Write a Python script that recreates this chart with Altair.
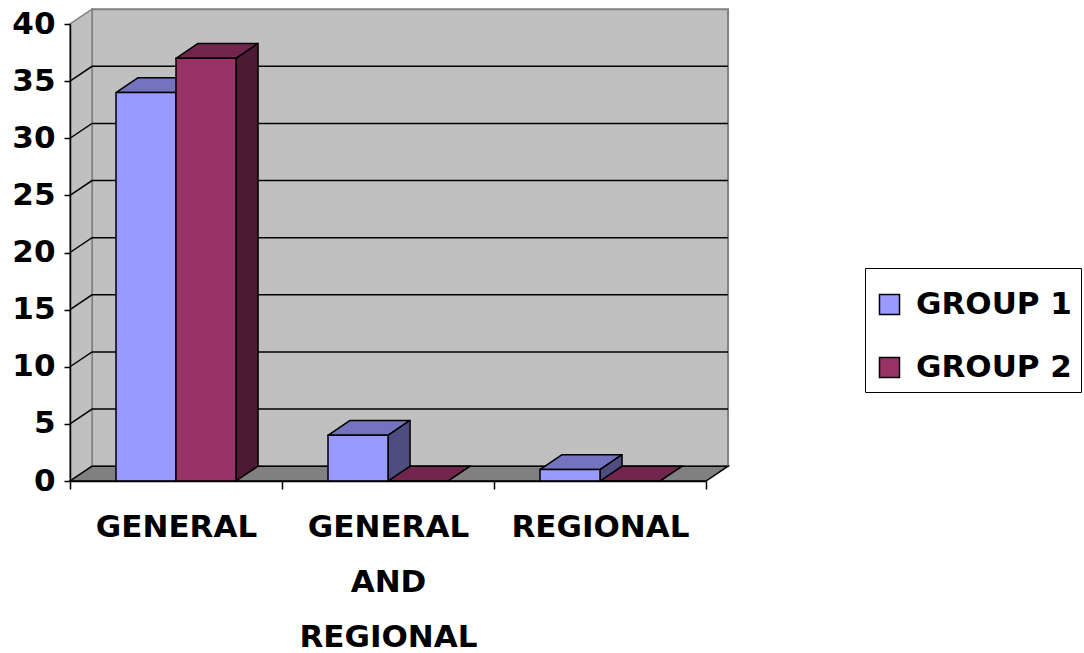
import altair as alt
import pandas as pd

# ---- chart values ----
categories = ["GENERAL", "GENERAL AND REGIONAL", "REGIONAL"]
category_lines = [["GENERAL"], ["GENERAL", "AND", "REGIONAL"], ["REGIONAL"]]
series = ["GROUP 1", "GROUP 2"]
group_1 = [34, 4, 1]
group_2 = [37, 0, 0]
y_ticks = [0, 5, 10, 15, 20, 25, 30, 35, 40]

# ---- styling ----
FRONT = ["#9999FF", "#993366"]
TOP = ["#7373BF", "#73264D"]
SIDE = ["#4D4D80", "#4D1A33"]
WALL = "#C0C0C0"
FLOOR = "#808080"
EDGE = "#808080"
FONT = "DejaVu Sans"
FONT_SIZE = 31

# pseudo-3D depth offsets (x in category units, y in value units)
DX, DY = 0.104, 1.3
BAR_W = 0.283
BAR_OFF = 0.217
NCAT = len(categories)
YMAX = y_ticks[-1]

# ---- derived tables ----
rows = []
for i, cat in enumerate(categories):
    for j, (s, vals) in enumerate(zip(series, [group_1, group_2])):
        x0 = i + BAR_OFF + j * BAR_W
        rows.append(dict(bar=f"{i}-{j}", group=s, value=vals[i], x0=x0, x1=x0 + BAR_W))
bars = pd.DataFrame(rows)

tops = pd.concat([
    bars.assign(y=bars.value, xa=bars.x0, xb=bars.x1),
    bars.assign(y=bars.value + DY, xa=bars.x0 + DX, xb=bars.x1 + DX),
])
sides = pd.concat([
    bars.assign(x=bars.x1, ya=0.0, yb=bars.value),
    bars.assign(x=bars.x1 + DX, ya=DY, yb=bars.value + DY),
])

back_wall = pd.DataFrame([{"x": DX, "x2": NCAT + DX, "y": DY, "y2": YMAX + DY}])
side_wall = pd.DataFrame({"x": [0, DX], "y": [0, DY], "y2": [YMAX, YMAX + DY]})
floor = pd.DataFrame({"y": [0, DY], "x": [0, DX], "x2": [NCAT, NCAT + DX]})

grid_rows = []
for v in y_ticks[1:-1]:
    grid_rows += [
        dict(v=v, k=0, x=0, y=v),
        dict(v=v, k=1, x=DX, y=v + DY),
        dict(v=v, k=2, x=NCAT + DX, y=v + DY),
    ]
grid = pd.DataFrame(grid_rows)

# ---- scales & axes (shared by every layer) ----
xs = alt.Scale(domain=[0, NCAT], nice=False, zero=False)
ys = alt.Scale(domain=[0, YMAX], nice=False, zero=False)

label_expr = " : ".join(
    f"datum.value == {i + 0.5} ? {lines if len(lines) > 1 else repr(lines[0])}"
    for i, lines in enumerate(category_lines)
) + " : ''"

x_axis = alt.Axis(
    values=[k * 0.5 for k in range(2 * NCAT + 1)],
    labelExpr=label_expr,
    tickOpacity={"condition": {"test": "datum.value % 1 != 0", "value": 0}, "value": 1},
    tickSize=8, tickWidth=1.5, tickColor="black",
    domainColor="black", domainWidth=1.5,
    labelFont=FONT, labelFontWeight="bold", labelFontSize=FONT_SIZE, labelColor="black",
    labelLineHeight=55, labelPadding=23, labelFlush=False, labelOverlap=False,
    labelBound=False, grid=False, title=None, zindex=1,
)
y_axis = alt.Axis(
    values=y_ticks, tickSize=6, tickWidth=1.5, tickColor="black",
    domainColor="black", domainWidth=1.5,
    labelFont=FONT, labelFontWeight="bold", labelFontSize=FONT_SIZE, labelColor="black",
    labelPadding=9, labelOverlap=False, grid=False, title=None, zindex=1,
)


def X(field, **kw):
    return alt.X(field, scale=xs, axis=x_axis, **kw)


def Y(field, **kw):
    return alt.Y(field, scale=ys, axis=y_axis, **kw)


# ---- layers ----
back = alt.Chart(back_wall).mark_rect(fill=WALL, stroke=EDGE, strokeWidth=2, opacity=1).encode(
    x=X("x:Q"), x2="x2:Q", y=Y("y:Q"), y2="y2:Q",
)

left_wall = alt.Chart(side_wall).mark_area(
    orient="vertical", fill=WALL, stroke=EDGE, strokeWidth=1.5, opacity=1
).encode(x=X("x:Q"), y=Y("y:Q", stack=None), y2="y2:Q")

base = alt.Chart(floor).mark_area(
    orient="horizontal", fill=FLOOR, stroke="black", strokeWidth=1.5, opacity=1
).encode(y=Y("y:Q"), x=X("x:Q", stack=None), x2="x2:Q")

gridlines = alt.Chart(grid).mark_line(color="black", strokeWidth=1.5).encode(
    x=X("x:Q"), y=Y("y:Q"), detail="v:N", order="k:Q",
)

top_faces = alt.Chart(tops).mark_area(
    orient="horizontal", stroke="black", strokeWidth=1.5, opacity=1, strokeJoin="round"
).encode(
    y=Y("y:Q"),
    x=X("xa:Q", stack=None),
    x2="xb:Q",
    color=alt.Color("group:N", scale=alt.Scale(domain=series, range=TOP), legend=None),
    detail="bar:N",
)

side_faces = alt.Chart(sides).mark_area(
    orient="vertical", stroke="black", strokeWidth=1.5, opacity=1, strokeJoin="round"
).encode(
    x=X("x:Q"),
    y=Y("ya:Q", stack=None),
    y2="yb:Q",
    color=alt.Color("group:N", scale=alt.Scale(domain=series, range=SIDE), legend=None),
    detail="bar:N",
)

front_faces = alt.Chart(bars).mark_rect(stroke="black", strokeWidth=1.5, opacity=1).encode(
    x=X("x0:Q"),
    x2="x1:Q",
    y=Y("value:Q"),
    y2=alt.Y2(datum=0),
    color=alt.Color(
        "group:N",
        scale=alt.Scale(domain=series, range=FRONT),
        legend=alt.Legend(
            title=" ", titleFontSize=1, titlePadding=11,
            orient="none", legendX=795, legendY=244, direction="vertical",
            symbolType="square", symbolSize=400, symbolStrokeColor="black",
            symbolStrokeWidth=1.5, symbolOpacity=1,
            labelFont=FONT, labelFontWeight="bold", labelFontSize=FONT_SIZE,
            labelColor="black", labelOffset=11, rowPadding=31, padding=9,
            strokeColor="black", fillColor="white",
        ),
    ),
)

chart = (
    alt.layer(back, left_wall, base, gridlines, top_faces, side_faces, front_faces)
    .resolve_scale(color="independent")
    .properties(
        width=636,
        height=457,
        autosize=alt.AutoSizeParams(type="none"),
        padding={"left": 70, "top": 24, "right": 378, "bottom": 172},
        background="white",
    )
    .configure_view(stroke=None)
)

chart.save("out.html", embed_options={"renderer": "svg", "actions": False})
